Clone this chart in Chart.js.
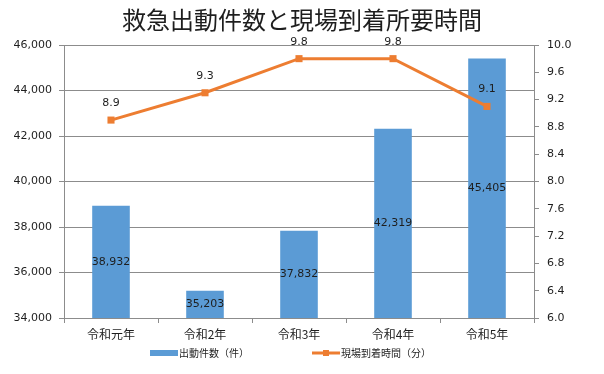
<!DOCTYPE html>
<html><head><meta charset="utf-8">
<script src="https://cdn.jsdelivr.net/npm/chart.js@4.4.1/dist/chart.umd.min.js"></script>
<style>html,body{margin:0;padding:0;background:#fff}#wrap{width:604px;height:374px}</style>
</head><body><div id="wrap"><canvas id="c" width="604" height="374"></canvas></div>
<script>
const categories = ['令和元年', '令和2年', '令和3年', '令和4年', '令和5年'];
const dispatchCounts = [38932, 35203, 37832, 42319, 45405];
const arrivalMinutes = [8.9, 9.3, 9.8, 9.8, 9.1];
const seriesNames = ['出動件数（件）', '現場到着時間（分）'];
const leftTicks = [34000, 46000, 2000];
const rightTicks = [6, 10, 0.4];
const titleText = '救急出動件数と現場到着所要時間';

const barColor = '#5b9bd5';
const lineColor = '#ed7d31';
const gridColor = '#8c8c8c';
const textColor = '#1e1e1e';
const numFont = '"DejaVu Sans", "Noto Sans CJK JP", sans-serif';
const jpFont = '"Noto Sans CJK JP", "DejaVu Sans", sans-serif';

const labelPlugin = {
  id: 'valueLabels',
  afterDraw(chart) {
    const ctx = chart.ctx;
    const yScale = chart.scales.y;
    ctx.save();
    ctx.font = '11px ' + numFont;
    ctx.fillStyle = textColor;
    ctx.textAlign = 'center';
    ctx.textBaseline = 'middle';
    chart.getDatasetMeta(0).data.forEach((el, i) => {
      const top = yScale.getPixelForValue(dispatchCounts[i]);
      const base = yScale.getPixelForValue(yScale.min);
      ctx.fillText(dispatchCounts[i].toLocaleString('en-US'), el.x, (top + base) / 2);
    });
    chart.getDatasetMeta(1).data.forEach((el, i) => {
      ctx.fillText(arrivalMinutes[i].toFixed(1), el.x, el.y - 17);
    });
    ctx.restore();
  }
};

const legendPlugin = {
  id: 'customLegend',
  afterDraw(chart) {
    const ctx = chart.ctx;
    const y = 353;
    ctx.save();
    ctx.font = '10px ' + jpFont;
    ctx.textBaseline = 'middle';
    ctx.textAlign = 'left';
    ctx.fillStyle = barColor;
    ctx.fillRect(150, y - 3, 28, 6);
    ctx.fillStyle = textColor;
    ctx.fillText(chart.data.datasets[0].label, 179, y);
    ctx.strokeStyle = lineColor;
    ctx.lineWidth = 3;
    ctx.beginPath();
    ctx.moveTo(312, y);
    ctx.lineTo(340, y);
    ctx.stroke();
    ctx.fillStyle = lineColor;
    ctx.fillRect(326 - 3, y - 3, 6, 6);
    ctx.fillStyle = textColor;
    ctx.fillText(chart.data.datasets[1].label, 341, y);
    ctx.restore();
  }
};

new Chart(document.getElementById('c'), {
  data: {
    labels: categories,
    datasets: [
      {
        type: 'bar',
        label: seriesNames[0],
        data: dispatchCounts,
        backgroundColor: barColor,
        borderWidth: 0,
        yAxisID: 'y',
        barPercentage: 0.4,
        categoryPercentage: 1.0,
        order: 1
      },
      {
        type: 'line',
        label: seriesNames[1],
        data: arrivalMinutes,
        borderColor: lineColor,
        backgroundColor: lineColor,
        borderWidth: 3,
        pointStyle: 'rect',
        pointRadius: 5,
        pointBackgroundColor: lineColor,
        pointBorderWidth: 0,
        tension: 0,
        yAxisID: 'y1',
        order: 0
      }
    ]
  },
  options: {
    responsive: false,
    animation: false,
    devicePixelRatio: 1,
    layout: { padding: { left: 0, right: 0, top: 0, bottom: 34 } },
    plugins: {
      legend: { display: false },
      tooltip: { enabled: false },
      title: {
        display: true,
        text: titleText,
        color: textColor,
        font: { family: jpFont, size: 24, weight: 'normal' },
        padding: { top: 5, bottom: 11.2 }
      }
    },
    scales: {
      x: {
        offset: true,
        grid: { display: true, offset: true, drawOnChartArea: false, drawTicks: true, tickLength: 5, color: gridColor },
        border: { color: gridColor },
        ticks: { color: textColor, font: { family: jpFont, size: 12 }, padding: 4, maxRotation: 0 },
        afterFit(s) { s.height = 22; }
      },
      y: {
        position: 'left',
        min: leftTicks[0], max: leftTicks[1],
        grid: { color: gridColor, tickLength: 5, drawTicks: true },
        border: { color: gridColor },
        ticks: {
          stepSize: leftTicks[2], color: textColor, padding: 7,
          font: { family: numFont, size: 11 },
          callback: v => Number(v).toLocaleString('en-US')
        },
        afterFit(s) { s.width = 64; }
      },
      y1: {
        position: 'right',
        min: rightTicks[0], max: rightTicks[1],
        grid: { drawOnChartArea: false, color: gridColor, tickLength: 5, drawTicks: true },
        border: { color: gridColor },
        ticks: {
          stepSize: rightTicks[2], color: textColor, padding: 8,
          font: { family: numFont, size: 11 },
          callback: v => Number(v).toFixed(1)
        },
        afterFit(s) { s.width = 70; }
      }
    }
  },
  plugins: [labelPlugin, legendPlugin]
});
</script>
</body></html>
